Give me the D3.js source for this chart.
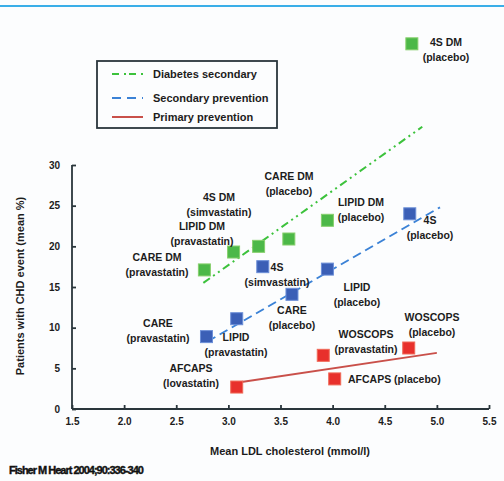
<!DOCTYPE html>
<html>
<head>
<meta charset="utf-8">
<script src="https://cdn.jsdelivr.net/npm/d3@7"></script>
<style>
body{margin:0;background:#fcfdfe;}
text{font-family:"Liberation Sans",Arial,sans-serif;}
</style>
</head>
<body>
<div id="content"></div>
<script>
// trial points (mean LDL, % CHD event)
var green_names=["4S DM|(placebo)","CARE DM|(pravastatin)","LIPID DM|(pravastatin)","4S DM|(simvastatin)","CARE DM|(placebo)","LIPID DM|(placebo)"];
var green_x=[4.76,2.77,3.05,3.29,3.58,3.95];
var green_y=[44.9,17.1,19.3,20.0,20.9,23.2];
var blue_names=["CARE|(pravastatin)","LIPID|(pravastatin)","CARE|(placebo)","4S|(simvastatin)","LIPID|(placebo)","4S|(placebo)"];
var blue_x=[2.79,3.08,3.61,3.33,3.95,4.74];
var blue_y=[8.9,11.1,14.1,17.5,17.2,24.0];
var red_names=["AFCAPS|(lovastatin)","WOSCOPS|(pravastatin)","AFCAPS (placebo)","WOSCOPS|(placebo)"];
var red_x=[3.08,3.91,4.02,4.73];
var red_y=[2.7,6.6,3.7,7.5];
// fitted lines, [x0,y0,x1,y1]
var green_fit=[2.76,15.5,4.86,34.7];
var blue_fit=[2.8,8.3,5.03,24.8];
var red_fit=[3.11,3.3,5.0,6.9];
var x_ticks=[1.5,2.0,2.5,3.0,3.5,4.0,4.5,5.0,5.5];
var y_ticks=[0,5,10,15,20,25,30];
var legend_names=["Diabetes secondary","Secondary prevention","Primary prevention"];

var width=504,height=481;
var green="#4cb848",blue="#3b5fb6",red="#e8302c";
var axis_col="#2a363c";
var txt_col="#1c1c1c";

var x=d3.scaleLinear().domain([1.5,5.5]).range([72,489]);
var y=d3.scaleLinear().domain([0,30]).range([409,165]);

var svg=d3.select("#content").append("svg")
  .attr("width",width).attr("height",height);

svg.append("rect").attr("width",width).attr("height",height).attr("fill","#fcfdfe");
svg.append("line").attr("x1",0).attr("x2",width).attr("y1",6).attr("y2",6)
  .attr("stroke","#3aaee8").attr("stroke-width",2);

// axes
var xAxis=d3.axisBottom(x).tickValues(x_ticks).tickSize(-4).tickPadding(9).tickFormat(d3.format(".1f"));
var yAxis=d3.axisLeft(y).tickValues(y_ticks).tickSize(-4).tickPadding(12);
var gx=svg.append("g").attr("transform","translate(0,409)").call(xAxis);
var gy=svg.append("g").attr("transform","translate(72,0)").call(yAxis);
[gx,gy].forEach(function(g){
  g.select(".domain").attr("stroke",axis_col).attr("stroke-width",1.8);
  g.selectAll(".tick line").attr("stroke",axis_col).attr("stroke-width",1.8);
  g.selectAll(".tick text").attr("fill",txt_col).attr("font-size",10).attr("font-weight","bold")
   .attr("font-family","'Liberation Sans',Arial,sans-serif");
});
gx.select(".domain").attr("d","M72,0H489");
gy.select(".domain").attr("d","M0,165V409");

svg.append("text").attr("x",290).attr("y",455).attr("text-anchor","middle")
  .attr("font-size",11).attr("font-weight","bold").attr("fill",txt_col).text("Mean LDL cholesterol (mmol/l)");
svg.append("text").attr("transform","translate(24,286) rotate(-90)").attr("text-anchor","middle")
  .attr("font-size",11).attr("font-weight","bold").attr("fill",txt_col).text("Patients with CHD event (mean %)");
svg.append("text").attr("x",9).attr("y",474).attr("font-size",11).attr("font-weight","bold")
  .attr("letter-spacing",-1).attr("stroke","#111").attr("stroke-width",0.4)
  .attr("fill","#111").text("Fisher M Heart 2004;90:336-340");

// fit lines
function fitLine(f,col,dash){
  svg.append("line").attr("x1",x(f[0])).attr("y1",y(f[1])).attr("x2",x(f[2])).attr("y2",y(f[3]))
    .attr("stroke",col).attr("stroke-width",2).attr("stroke-dasharray",dash);
}
fitLine(green_fit,"#3cc23c","8,4,2,4,2,4");
fitLine(blue_fit,"#3b82d6","9,5");
fitLine(red_fit,"#c9504a",null);

// squares
function squares(xs,ys,col,edge){
  svg.selectAll(null).data(xs).enter().append("rect")
    .attr("x",function(d){return x(d)-6;})
    .attr("y",function(d,i){return y(ys[i])-6;})
    .attr("width",12).attr("height",12)
    .attr("fill",col).attr("stroke",edge).attr("stroke-width",1);
}
squares(green_x,green_y,green,"#86cf6c");
squares(blue_x,blue_y,blue,"#6c8fd8");
squares(red_x,red_y,red,"#f06a58");

// point labels: name, centre x, first line y, anchor
var label_pos=[
 ["4S DM|(placebo)",446,46,"middle"],
 ["CARE DM|(pravastatin)",157,261,"middle"],
 ["LIPID DM|(pravastatin)",202,230,"middle"],
 ["4S DM|(simvastatin)",219,201,"middle"],
 ["CARE DM|(placebo)",289,180,"middle"],
 ["LIPID DM|(placebo)",361,206,"middle"],
 ["CARE|(pravastatin)",158,327,"middle"],
 ["LIPID|(pravastatin)",236,341,"middle"],
 ["CARE|(placebo)",292,314,"middle"],
 ["4S|(simvastatin)",277,271,"middle"],
 ["LIPID|(placebo)",357,291,"middle"],
 ["4S|(placebo)",430,224,"middle"],
 ["AFCAPS|(lovastatin)",191,372,"middle"],
 ["WOSCOPS|(pravastatin)",366,338,"middle"],
 ["AFCAPS (placebo)",348,383,"start"],
 ["WOSCOPS|(placebo)",432,321,"middle"]
];
label_pos.forEach(function(l){
  var t=svg.append("text").attr("text-anchor",l[3]).attr("font-size",10.5).attr("font-weight","bold").attr("fill",txt_col);
  l[0].split("|").forEach(function(s,i){
    t.append("tspan").attr("x",l[1]).attr("y",l[2]+i*14.5).text(s);
  });
});

// legend
svg.append("rect").attr("x",97).attr("y",61).attr("width",180).attr("height",67)
  .attr("fill","#fcfdfe").attr("stroke",axis_col).attr("stroke-width",1.8);
var leg_y=[74,98,117];
var leg_col=["#3cc23c","#3b82d6","#c9504a"];
var leg_dash=["7,5,2,3","9,6",null];
legend_names.forEach(function(n,i){
  svg.append("line").attr("x1",112).attr("x2",143).attr("y1",leg_y[i]).attr("y2",leg_y[i])
    .attr("stroke",leg_col[i]).attr("stroke-width",2).attr("stroke-dasharray",leg_dash[i]);
  svg.append("text").attr("x",153).attr("y",leg_y[i]+4).attr("font-size",11).attr("font-weight","bold").attr("fill",txt_col).text(n);
});
</script>
</body>
</html>
